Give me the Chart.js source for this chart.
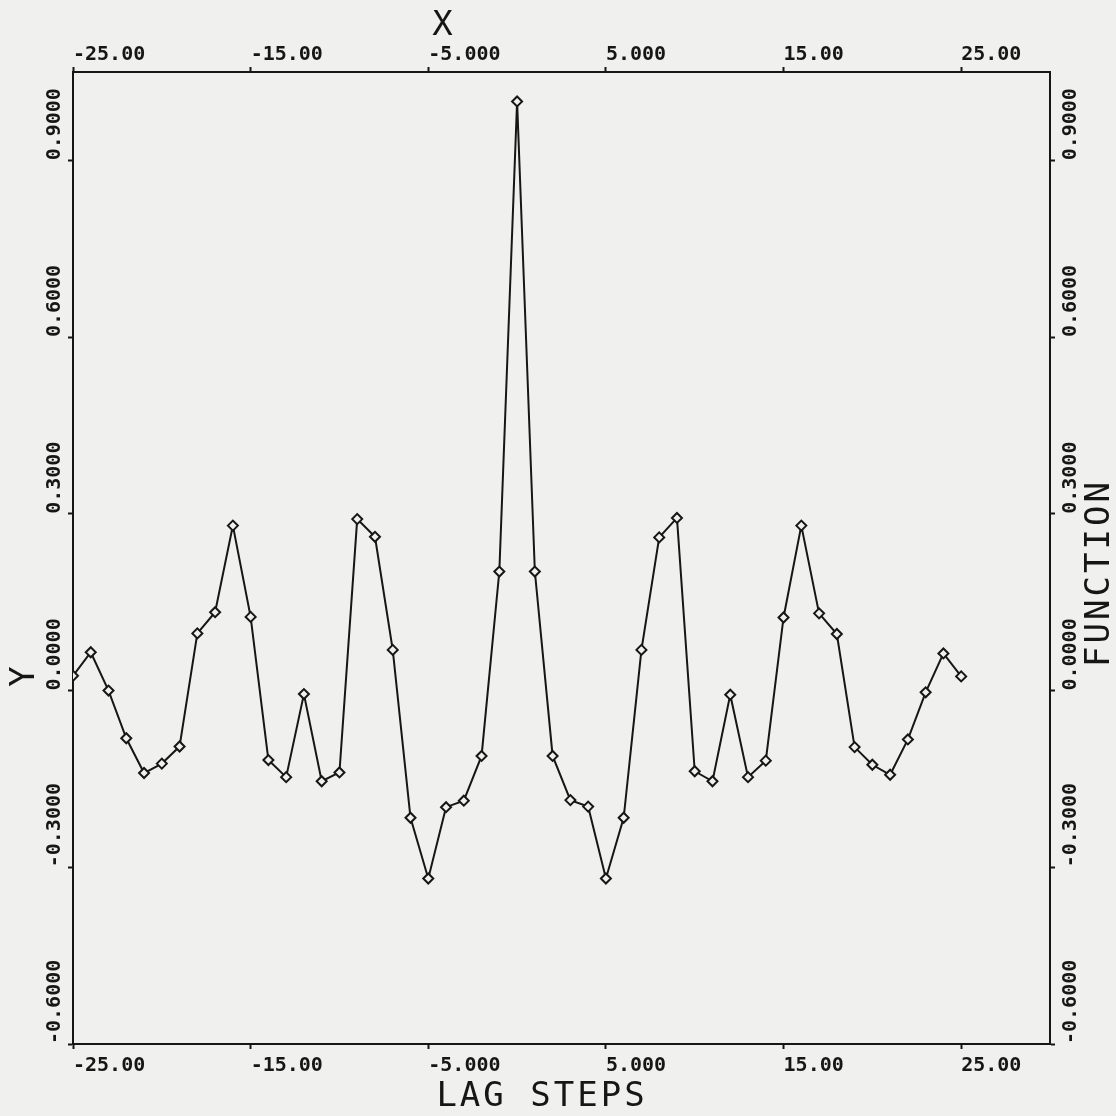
<!DOCTYPE html>
<html>
<head>
<meta charset="utf-8">
<script src="https://cdn.jsdelivr.net/npm/chart.js@4/dist/chart.umd.min.js"></script>
<style>
    html, body { margin: 0; padding: 0; background: #f0f0ee; }
    #wrap { width: 1116px; height: 1116px; position: relative; }
</style>
</head>
<body>
<div id="wrap"><canvas id="acf"></canvas></div>
<script>
const lags = [
    -25, -24, -23, -22, -21, -20, -19, -18, -17, -16, -15, -14, -13, -12, -11, -10, -9, -8, -7, -6, -5, -4, -3, -2, -1,
    0, 1, 2, 3, 4, 5, 6, 7, 8, 9, 10, 11, 12, 13, 14, 15, 16, 17, 18, 19, 20, 21, 22, 23, 24, 25,
]
const acf = [
    0.025, 0.065, 0.0, -0.081, -0.140, -0.124, -0.095, 0.097, 0.133, 0.280, 0.125, -0.118, -0.147, -0.006, -0.154, -0.139,
    0.291, 0.261, 0.069, -0.216, -0.319, -0.198, -0.187, -0.111, 0.202,
    1.0,
    0.202, -0.111, -0.186, -0.197, -0.319, -0.216, 0.069, 0.260, 0.293, -0.137, -0.154, -0.007, -0.147, -0.119,
    0.124, 0.280, 0.131, 0.096, -0.096, -0.126, -0.143, -0.083, -0.003, 0.063, 0.024,
]
const xTicks = [-25, -15, -5, 5, 15, 25]
const xTickLabels = ['-25.00', '-15.00', '-5.000', '5.000', '15.00', '25.00']
const yTicks = [-0.6, -0.3, 0, 0.3, 0.6, 0.9]
const yTickLabels = ['-0.6000', '-0.3000', '0.0000', '0.3000', '0.6000', '0.9000']

const ink = '#161616'
const paper = '#f0f0ee'
const tickFont = { family: 'DejaVu Sans Mono', size: 20, weight: 'bold' }

const xAxis = (position, tickLength, padding) => ({
    type: 'linear',
    position: position,
    min: -25,
    max: 30,
    afterBuildTicks: (scale) => { scale.ticks = xTicks.map((v) => ({ value: v })) },
    afterFit: (scale) => { scale.height = 40 },
    border: { display: true, color: ink, width: 2 },
    grid: { drawOnChartArea: false, drawTicks: true, tickLength: tickLength, tickColor: ink, tickWidth: 2 },
    ticks: {
        autoSkip: false,
        minRotation: 0,
        maxRotation: 0,
        align: 'start',
        padding: padding,
        color: ink,
        font: tickFont,
        callback: (v) => xTickLabels[xTicks.indexOf(v)],
    },
})

const yAxis = (position, crossAlign, align, padding, width) => ({
    type: 'linear',
    position: position,
    min: -0.6,
    max: 1.05,
    afterBuildTicks: (scale) => { scale.ticks = yTicks.map((v) => ({ value: v })) },
    afterFit: (scale) => { scale.width = width },
    border: { display: true, color: ink, width: 2 },
    grid: { drawOnChartArea: false, drawTicks: true, tickLength: 5, tickColor: ink, tickWidth: 2 },
    ticks: {
        autoSkip: false,
        minRotation: 90,
        maxRotation: 90,
        crossAlign: crossAlign,
        align: align,
        padding: padding,
        color: ink,
        font: tickFont,
        callback: (v) => yTickLabels[yTicks.indexOf(v)],
    },
})

// plotter style axis titles, placed against the chart area
const axisTitles = {
    id: 'axisTitles',
    afterDraw(chart) {
        const { ctx, chartArea: a } = chart
        const put = (text, cx, cy, rotated) => {
            ctx.save()
            ctx.font = '34px "DejaVu Sans Mono"'
            ctx.letterSpacing = '3px'
            ctx.fillStyle = ink
            ctx.textAlign = 'center'
            ctx.textBaseline = 'alphabetic'
            if (rotated) {
                ctx.translate(cx + 12, cy)
                ctx.rotate(-Math.PI / 2)
            } else {
                ctx.translate(cx, cy + 12)
            }
            ctx.fillText(text, 0, 0)
            ctx.restore()
        }
        put('X', a.left + 371, a.top - 49, false)
        put('LAG STEPS', a.left + 469, a.bottom + 50, false)
        put('Y', a.left - 51, a.top + 603, true)
        put('FUNCTION', a.right + 47, a.top + 501, true)
    },
}

const ctx = document.getElementById('acf')

const chart = new Chart(ctx, {
    type: 'line',
    data: {
        datasets: [
            {
                data: lags.map((x, i) => ({ x: x, y: acf[i] })),
                xAxisID: 'x',
                yAxisID: 'y',
                borderColor: ink,
                borderWidth: 2,
                tension: 0,
                pointStyle: 'rectRot',
                pointRadius: 5,
                pointBorderWidth: 2,
                pointBorderColor: ink,
                pointBackgroundColor: paper,
            },
        ],
    },
    options: {
        responsive: true,
        maintainAspectRatio: false,
        animation: false,
        layout: { padding: { left: 45, right: 26, top: 32, bottom: 32 } },
        plugins: { legend: { display: false }, tooltip: { enabled: false } },
        scales: {
            x: xAxis('bottom', 5, 5),
            x2: xAxis('top', 5, 0),
            y: yAxis('left', 'far', 'start', 0, 28),
            y2: yAxis('right', 'near', 'center', 16, 40),
        },
    },
    plugins: [axisTitles],
})
</script>
</body>
</html>
